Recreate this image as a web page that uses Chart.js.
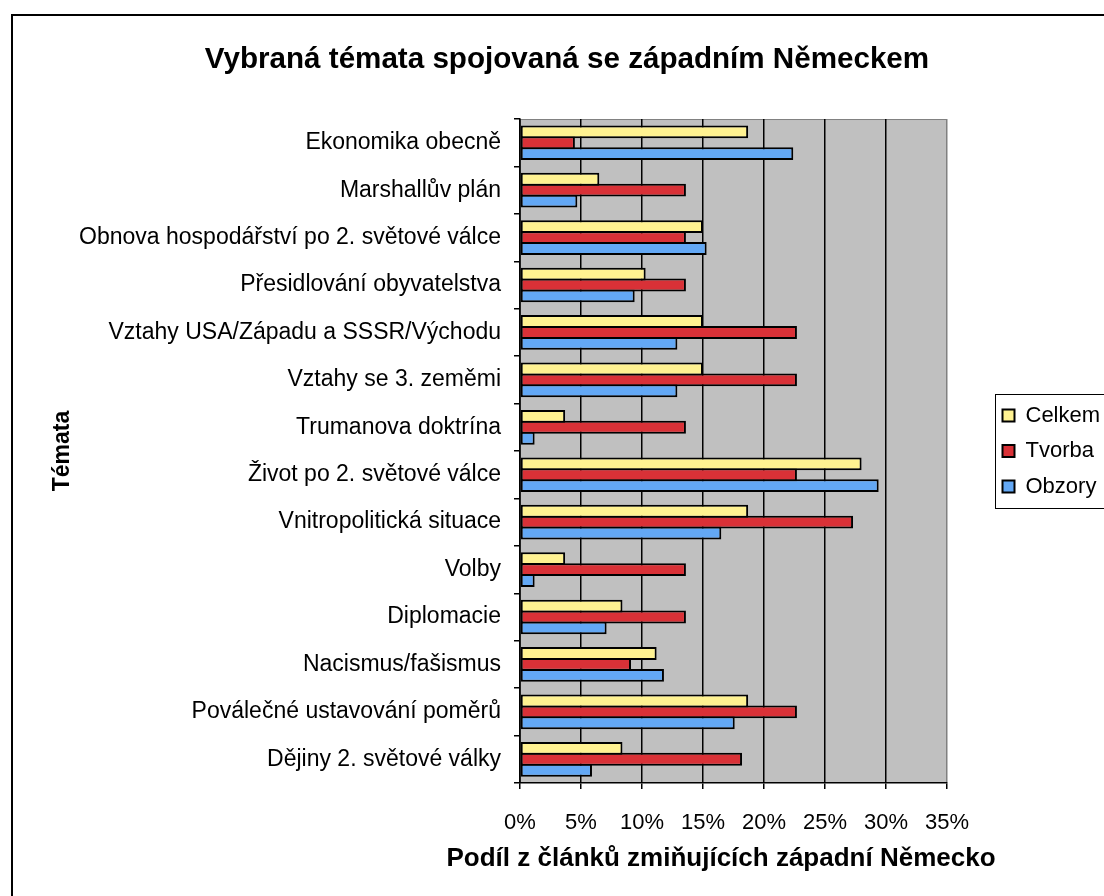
<!DOCTYPE html>
<html>
<head>
<meta charset="utf-8">
<script src="https://cdn.jsdelivr.net/npm/chart.js@4.4.1/dist/chart.umd.min.js"></script>
<style>
  html, body { margin: 0; padding: 0; background: #ffffff; overflow: hidden; }
  #wrap { position: absolute; left: 0; top: 0; width: 1134px; height: 896px; }
</style>
</head>
<body>
<div id="wrap"><canvas id="c" width="1134" height="896"></canvas></div>
<script>
const titleText = 'Vybraná témata spojovaná se západním Německem';
const xTitle = 'Podíl z článků zmiňujících západní Německo';
const yTitle = 'Témata';
const categories = [
  'Ekonomika obecně',
  'Marshallův plán',
  'Obnova hospodářství po 2. světové válce',
  'Přesidlování obyvatelstva',
  'Vztahy USA/Západu a SSSR/Východu',
  'Vztahy se 3. zeměmi',
  'Trumanova doktrína',
  'Život po 2. světové válce',
  'Vnitropolitická situace',
  'Volby',
  'Diplomacie',
  'Nacismus/fašismus',
  'Poválečné ustavování poměrů',
  'Dějiny 2. světové války'
];
const seriesNames = ['Celkem', 'Tvorba', 'Obzory'];
const celkem = [18.7, 6.5, 15.0, 10.3, 15.0, 15.0, 3.7, 28.0, 18.7, 3.7, 8.4, 11.2, 18.7, 8.4];
const tvorba = [4.5, 13.6, 13.6, 13.6, 22.7, 22.7, 13.6, 22.7, 27.3, 13.6, 13.6, 9.1, 22.7, 18.2];
const obzory = [22.4, 4.7, 15.3, 9.4, 12.9, 12.9, 1.2, 29.4, 16.5, 1.2, 7.1, 11.8, 17.6, 5.9];
const xTicks = [0, 5, 10, 15, 20, 25, 30, 35];

const FONT = "'Liberation Sans', Arial, sans-serif";
const colors = ['#FFF291', '#D93137', '#63A8F5'];
const CW = 1134;

const chartFix = {
  id: 'chartFix',
  beforeUpdate(chart) {
    const lg = chart.legend;
    if (lg && !lg.__wrapped) {
      const orig = lg.fit.bind(lg);
      lg.fit = function () { orig(); this.width = CW - 947; };
      lg.__wrapped = true;
    }
  },
  afterLayout(chart) {
    const lg = chart.legend;
    if (lg) { lg.left += 42; lg.top += 3; lg.bottom += 3; }
    const xs = chart.scales.x;
    if (xs && !xs.__titleWrapped) {
      const origTitle = xs.drawTitle.bind(xs);
      xs.drawTitle = function () {
        const l = this.left, r = this.right;
        this.left = l - 79; this.right = r + 54;
        origTitle();
        this.left = l; this.right = r;
      };
      xs.__titleWrapped = true;
    }
  },
  beforeDraw(chart) {
    const ctx = chart.ctx;
    const a = chart.chartArea;
    ctx.save();
    ctx.fillStyle = '#ffffff';
    ctx.fillRect(0, 0, chart.width, chart.height);
    ctx.strokeStyle = '#000000';
    ctx.lineWidth = 2;
    ctx.strokeRect(12, 15, 2000, 2000);
    ctx.fillStyle = '#C0C0C0';
    ctx.fillRect(a.left, a.top, a.right - a.left, a.bottom - a.top);
    ctx.strokeStyle = '#808080';
    ctx.lineWidth = 1;
    ctx.strokeRect(a.left + 0.5, a.top + 0.5, a.right - a.left - 1, a.bottom - a.top - 1);
    ctx.restore();
  },
  afterDraw(chart) {
    const lg = chart.legend;
    if (!lg || !lg.legendHitBoxes || !lg.legendHitBoxes.length) return;
    const hb = lg.legendHitBoxes;
    const first = hb[0], last = hb[hb.length - 1];
    const ctx = chart.ctx;
    ctx.save();
    ctx.strokeStyle = '#000000';
    ctx.lineWidth = 1;
    const x0 = Math.round(first.left) - 7.5;
    const y0 = Math.round(first.top) - 10.5;
    const y1 = Math.round(last.top + last.height) + 10.5;
    ctx.strokeRect(x0, y0, 400, y1 - y0);
    ctx.restore();
  }
};

const datasets = [celkem, tvorba, obzory].map((d, i) => ({
  label: seriesNames[i],
  data: d,
  backgroundColor: colors[i],
  borderColor: '#000000',
  borderWidth: 2,
  borderSkipped: false,
  categoryPercentage: 0.69,
  barPercentage: 1.18
}));

new Chart(document.getElementById('c'), {
  type: 'bar',
  data: { labels: categories, datasets },
  plugins: [chartFix],
  options: {
    indexAxis: 'y',
    responsive: false,
    animation: false,
    layout: { padding: 0 },
    plugins: {
      title: {
        display: true,
        text: titleText,
        color: '#000000',
        font: { family: FONT, size: 29.6, weight: 'bold', lineHeight: 1.2 },
        padding: { top: 42, bottom: 41.5 }
      },
      legend: {
        display: true,
        position: 'right',
        align: 'center',
        labels: {
          color: '#000000',
          font: { family: FONT, size: 22 },
          boxWidth: 12,
          boxHeight: 12,
          padding: 13.5
        }
      },
      tooltip: { enabled: false }
    },
    scales: {
      x: {
        type: 'linear',
        position: 'bottom',
        min: 0,
        max: 35,
        afterBuildTicks(scale) { scale.ticks = xTicks.map(v => ({ value: v })); },
        afterFit(scale) { scale.height = 896 - 783; },
        ticks: {
          color: '#000000',
          font: { family: FONT, size: 22 },
          padding: 21,
          callback: v => v + '%'
        },
        grid: {
          color: ctx => (ctx.tick && ctx.tick.value === 35 ? '#808080' : '#000000'),
          lineWidth: 1.5,
          drawOnChartArea: true,
          drawTicks: true,
          tickLength: 6,
          tickColor: '#000000'
        },
        border: { display: true, color: '#000000', width: 1.5 },
        title: {
          display: true,
          text: xTitle,
          color: '#000000',
          font: { family: FONT, size: 26, weight: 'bold', lineHeight: 1.2 },
          padding: { top: 22, bottom: 22 }
        }
      },
      y: {
        type: 'category',
        position: 'left',
        afterFit(scale) { scale.width = 520; },
        ticks: {
          color: '#000000',
          font: { family: FONT, size: 23 },
          padding: 13
        },
        grid: {
          offset: true,
          drawOnChartArea: false,
          drawTicks: true,
          tickLength: 6,
          color: '#000000',
          lineWidth: 1.5
        },
        border: { display: true, color: '#000000', width: 1.5 },
        title: {
          display: true,
          text: yTitle,
          color: '#000000',
          font: { family: FONT, size: 23, weight: 'bold', lineHeight: 1.2 },
          padding: { top: 49, bottom: 49 }
        }
      }
    }
  }
});
</script>
</body>
</html>
